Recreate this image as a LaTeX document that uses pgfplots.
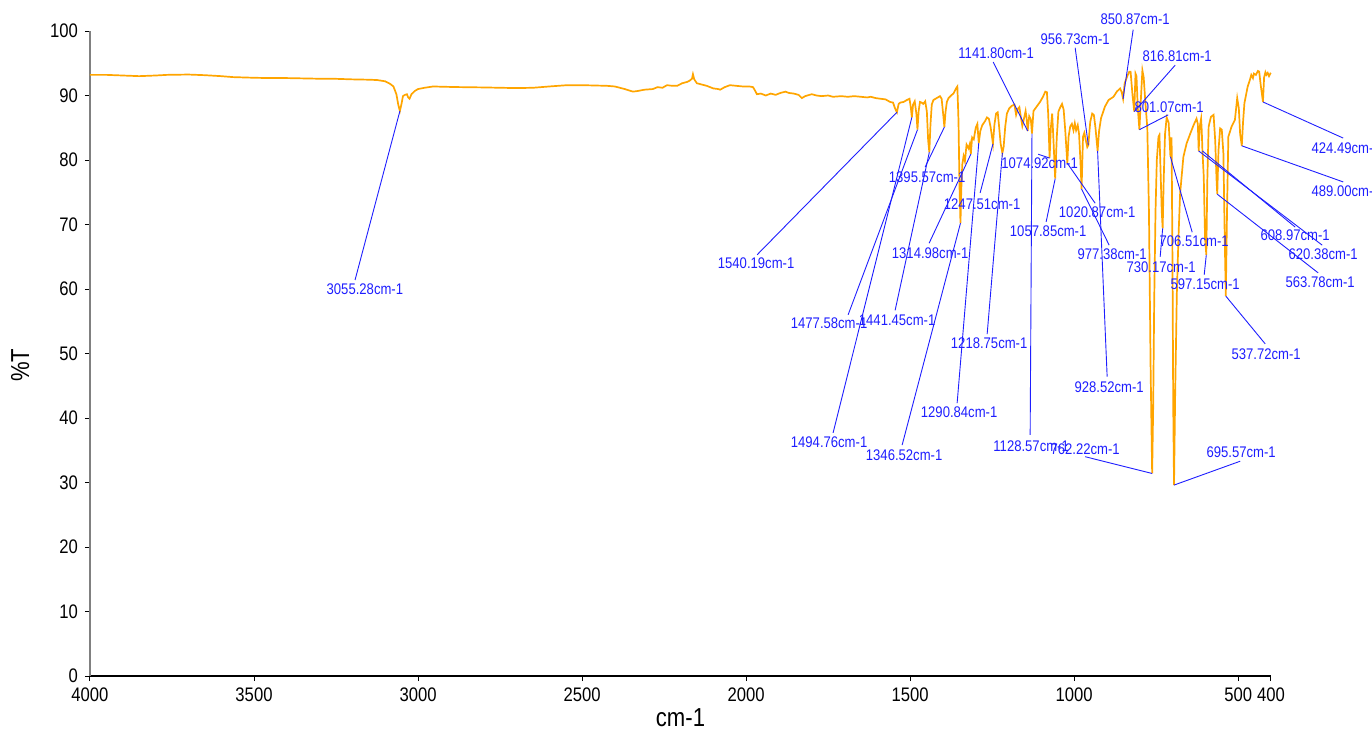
\documentclass[border=0pt]{standalone}
\usepackage{fontspec}
\setmainfont[FakeStretch=0.85]{Liberation Sans}
\usepackage{pgfplots}
\pgfplotsset{compat=1.18}
\definecolor{specorange}{RGB}{255,165,0}
\definecolor{lblblue}{RGB}{30,30,255}
\newcommand\lblfont{\fontsize{7.7}{8.5}\selectfont}
\newcommand\pk[7]{%
  \draw[lblblue, line width=0.45pt] (axis cs:#1,#2) -- (axis cs:#3,#4);
  \node[lblblue, font=\lblfont, inner sep=0pt] at (axis cs:#5,#6) {#7};}
\newcommand\pkw[7]{%
  \draw[lblblue, line width=0.45pt] (axis cs:#1,#2) -- (axis cs:#3,#4);
  \node[lblblue, font=\lblfont, inner sep=0pt, anchor=west] at (axis cs:#5,#6) {#7};}

\pgfplotstableread{
wn T
4000 93.2
3950 93.2
3900 93.1
3850 93.0
3800 93.1
3765 93.2
3700 93.25
3650 93.15
3600 93.0
3564 92.85
3500 92.75
3450 92.7
3400 92.7
3350 92.65
3300 92.6
3259 92.6
3200 92.5
3150 92.45
3125 92.4
3100 92.2
3085 91.8
3075 91.4
3066 90.2
3060 88.5
3055.28 87.6
3050 88.8
3046 89.9
3040 90.1
3034 90.2
3030 89.7
3026 89.5
3020 90.2
3010 90.7
3000 91.0
2980 91.2
2954 91.4
2920 91.35
2872 91.3
2800 91.25
2750 91.2
2700 91.15
2649 91.2
2600 91.4
2546 91.6
2500 91.6
2460 91.55
2424 91.5
2400 91.4
2370 91.0
2345 90.6
2330 90.7
2310 90.9
2284 91.0
2270 91.3
2255 91.2
2241 91.6
2225 91.5
2210 91.5
2195 91.9
2180 92.1
2172 92.3
2165 92.6
2162 93.3
2158 92.5
2150 91.9
2135 91.7
2120 91.5
2100 91.1
2085 91.0
2079 90.9
2065 91.3
2049 91.6
2030 91.5
2010 91.4
1990 91.4
1979 91.3
1972 90.7
1967 90.2
1955 90.3
1940 90.0
1925 90.3
1910 90.1
1895 90.4
1880 90.6
1870 90.4
1855 90.3
1840 90.1
1830 89.6
1820 89.9
1800 90.2
1785 90.0
1770 89.9
1750 90.0
1735 89.8
1710 89.9
1690 89.8
1670 89.9
1650 89.8
1631 89.7
1620 89.8
1605 89.6
1591 89.5
1575 89.4
1561 89.0
1552 88.9
1546 88.0
1540.19 87.4
1535 88.7
1530 88.9
1520 89.0
1510 89.3
1502 89.5
1498 88.2
1494.76 86.6
1491 88.6
1486 89.1
1481 87.2
1477.58 84.7
1474 87.6
1470 89.0
1465 88.9
1460 88.7
1454 89.1
1449 87.5
1445 83.0
1441.45 81.2
1438 85.5
1434 88.6
1429 89.3
1419 89.6
1409 89.9
1404 89.5
1399 87.0
1395.57 85.1
1392 87.5
1388 89.0
1383 89.6
1373 90.1
1368 90.3
1360 91.1
1356 91.4
1352.5 86.0
1349.5 76.0
1346.52 70.2
1344 75.5
1341 79.3
1337 80.6
1333 79.8
1328 82.4
1322 81.8
1318 82.5
1314.98 80.9
1311 83.5
1306 83.2
1300 85.0
1295 85.6
1290.84 82.6
1286 84.5
1280 85.4
1272 86.0
1266 86.6
1260 86.4
1255 85.2
1251 83.8
1247.51 82.5
1243 85.5
1238 87.2
1233 87.4
1229 85.3
1224 82.5
1218.75 81.1
1215 82.0
1210 85.2
1205 87.2
1198 88.0
1190 88.4
1182 88.6
1177 87.0
1172 87.9
1167 88.2
1162 86.5
1158 85.3
1153 86.4
1148 87.6
1145 86.5
1141.80 84.5
1137 86.8
1132 86.3
1128.57 84.1
1124 87.6
1114 88.3
1104 89.0
1095 89.8
1088 90.6
1083 90.5
1079 87.0
1074.92 80.3
1071 85.0
1067 87.2
1063 83.0
1057.85 77.1
1053 83.5
1048 87.5
1043 88.1
1037 88.7
1032 87.8
1027 84.5
1020.87 79.5
1017 83.6
1012 85.2
1007 85.6
1002 84.6
998 85.7
994 84.6
989 85.4
985 84.0
981 80.0
977.38 75.5
973 83.6
969 84.2
965 83.2
960 82.0
956.73 82.3
951 85.9
945 87.2
940 87.0
935 85.0
928.52 81.4
924 84.5
918 86.5
906 88.3
895 89.3
880 89.8
870 90.6
860 91.1
855 90.5
850.87 89.5
846 91.9
838 93.0
832 93.7
828 93.7
822 90.0
816.81 87.5
813 93.4
810 93.0
806 88.0
801.07 84.7
797 89.0
792 93.9
788 92.8
783 89.0
777 85.0
772 72.0
767 48.0
762.22 31.4
759 42.0
756 58.0
752 72.0
748 80.0
743 83.6
740 83.9
737 79.0
733 72.0
730.17 69.4
727 77.0
723 84.0
718 86.6
712 85.8
709 83.0
706.51 80.5
703 83.5
700 62.0
698 42.0
695.57 29.6
692 44.0
687 59.3
682 68.0
677 74.8
667 80.5
657 82.6
646 84.1
636 85.4
627 86.4
623 85.6
620.38 81.4
617 85.2
613 86.4
611 84.5
608.97 81.4
605 77.5
601 68.0
597.15 65.3
594 77.0
590 85.2
583 86.7
575 87.0
570 83.0
566 77.0
563.78 74.7
560 81.5
555 84.9
550 84.7
545 81.0
541 68.0
537.72 58.9
534 72.0
530 83.6
520 85.2
510 86.2
503 89.6
498 88.0
494 84.0
489.00 82.2
485 86.0
481 88.8
471 91.4
465 92.3
460 93.2
455 92.7
452 93.4
446 93.2
440 93.8
436 93.7
431 91.5
427 90.0
424.49 89.0
421 92.8
417 93.6
414 93.2
410 93.5
406 93.0
402 93.4
400 93.3
}\spectrum

\begin{document}
\begin{tikzpicture}
\begin{axis}[
  name=ax,
  at={(0,0)}, anchor=south west,
  scale only axis,
  width=590.5pt, height=322.5pt,
  x dir=reverse,
  xmin=400, xmax=4000, ymin=0, ymax=100,
  axis x line=bottom, axis y line=left,
  x axis line style={-, black, line width=0.7pt},
  y axis line style={-, gray, line width=0.7pt},
  xtick={4000,3500,3000,2500,2000,1500,1000,500,400},
  ytick={0,10,...,100},
  minor tick num=0,
  tick align=outside,
  major tick length=2.5pt,
  tick style={black, line width=0.5pt},
  ticklabel style={font=\fontsize{9.8}{10}\selectfont},
  /pgf/number format/assume math mode=true,
  /pgf/number format/set thousands separator={},
  xlabel={cm-1}, ylabel={\%T},
  label style={font=\fontsize{13}{14}\selectfont},
  xlabel style={at={(axis description cs:0.5,-0.065)}, anchor=center},
  ylabel style={at={(axis description cs:-0.059,0.482)}, anchor=center},
  clip=false,
]
\addplot[specorange, line width=0.85pt, mark=none] table[x=wn, y=T] {\spectrum};

\pk{3055.28}{87.6}{3192}{61.4}{3162}{60.0}{3055.28cm-1}
\pk{1540.19}{87.4}{1966.5}{65.3}{1969.5}{64.0}{1540.19cm-1}
\pk{1494.76}{86.6}{1734.8}{37.7}{1747}{36.3}{1494.76cm-1}
\pk{1477.58}{84.7}{1689}{56.0}{1747}{54.7}{1477.58cm-1}
\pk{1441.45}{81.2}{1545.7}{56.7}{1539.6}{55.2}{1441.45cm-1}
\pk{1395.57}{85.1}{1454.3}{78.9}{1448.2}{77.4}{1395.57cm-1}
\pk{1346.52}{70.2}{1524.4}{35.8}{1518.3}{34.3}{1346.52cm-1}
\pk{1314.98}{80.9}{1442.1}{67.1}{1439.0}{65.6}{1314.98cm-1}
\pk{1290.84}{82.6}{1356.7}{42.3}{1350.6}{40.9}{1290.84cm-1}
\pk{1247.51}{82.5}{1286.6}{74.9}{1280.5}{73.2}{1247.51cm-1}
\pk{1218.75}{81.1}{1265.2}{53.0}{1259.1}{51.6}{1218.75cm-1}
\pk{1141.80}{84.5}{1246.9}{95.2}{1237.8}{96.6}{1141.80cm-1}
\pk{1128.57}{84.1}{1134.1}{37.4}{1131.1}{35.7}{1128.57cm-1}
\pk{1074.92}{80.3}{1109.7}{80.9}{1105.2}{79.5}{1074.92cm-1}
\pk{1057.85}{77.1}{1085.4}{70.4}{1079.2}{69.0}{1057.85cm-1}
\pk{1020.87}{79.5}{936}{73.3}{929.9}{71.9}{1020.87cm-1}
\pk{977.38}{75.5}{893.3}{66.8}{884.1}{65.4}{977.38cm-1}
\pk{956.73}{82.3}{996.9}{97.4}{996.9}{98.8}{956.73cm-1}
\pk{928.52}{81.4}{899.4}{46.4}{893.3}{44.8}{928.52cm-1}
\pk{850.87}{89.5}{820.1}{100.2}{814}{101.9}{850.87cm-1}
\pk{816.81}{87.5}{692.1}{94.7}{686}{96.1}{816.81cm-1}
\pk{801.07}{84.7}{713.4}{87.0}{710.3}{88.2}{801.07cm-1}
\pk{762.22}{31.4}{966.4}{34.0}{966.4}{35.2}{762.22cm-1}
\pk{730.17}{69.4}{737.8}{65.0}{734.7}{63.4}{730.17cm-1}
\pk{706.51}{80.5}{640.2}{68.8}{634.1}{67.4}{706.51cm-1}
\pk{695.57}{29.6}{493.9}{33.3}{490.8}{34.7}{695.57cm-1}
\pk{620.38}{81.4}{243.9}{66.8}{240.8}{65.4}{620.38cm-1}
\pk{608.97}{81.4}{326.2}{69.6}{326.2}{68.4}{608.97cm-1}
\pk{597.15}{65.3}{603.6}{62.2}{600.6}{60.8}{597.15cm-1}
\pk{563.78}{74.7}{256.1}{62.5}{250}{61.1}{563.78cm-1}
\pk{537.72}{58.9}{417.7}{51.5}{414.6}{49.9}{537.72cm-1}
\pkw{489.00}{82.2}{179.9}{76.6}{277.4}{75.2}{489.00cm-1}
\pkw{424.49}{89.0}{179.9}{83.4}{277.4}{81.9}{424.49cm-1}
\end{axis}
\pgfresetboundingbox
\path[use as bounding box] ([shift={(-45pt,-27pt)}]ax.south west) rectangle ([shift={(641pt,338pt)}]ax.south west);
\end{tikzpicture}
\end{document}
